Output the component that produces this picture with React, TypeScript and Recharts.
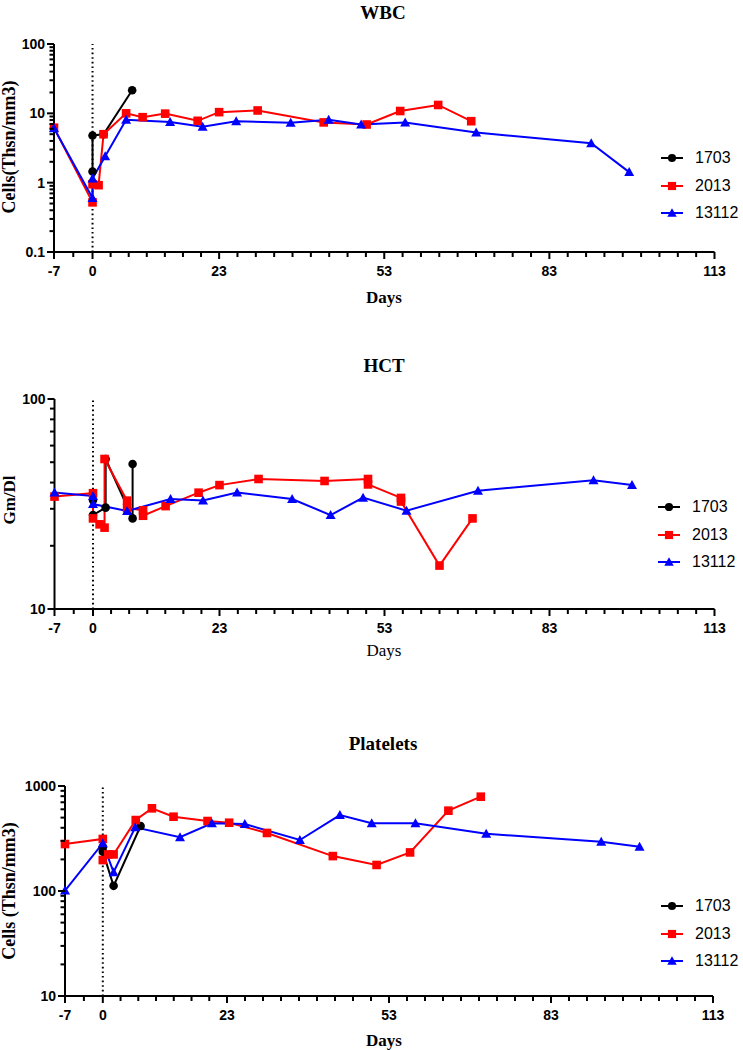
import React from 'react';
import { LineChart, Line, XAxis, YAxis, ReferenceLine } from 'recharts';

type Pt = { d: number; v: number };

const seriesNames = ['1703', '2013', '13112'];
const seriesColors = ['#000000', '#ff0000', '#0000ff'];
const seriesShapes = ['circle', 'square', 'triangle'];

const xMajorTicks = [-7, 0, 23, 53, 83, 113];
const xMinorDivisions = [2, 7, 9, 9, 9];

const wbcTicks = [0.1, 1, 10, 100];
const hctTicks = [10, 100];
const pltTicks = [10, 100, 1000];

const wbc1703: Pt[] = [
  { d: 0, v: 1.45 }, { d: 0, v: 4.8 }, { d: 2, v: 5.0 }, { d: 7.2, v: 21.5 },
];
const wbc2013: Pt[] = [
  { d: -7, v: 6.2 }, { d: 0, v: 0.52 }, { d: 0, v: 0.95 }, { d: 1.1, v: 0.92 }, { d: 2, v: 5.0 },
  { d: 6.1, v: 10.0 }, { d: 9.1, v: 8.8 }, { d: 13.2, v: 9.9 }, { d: 19.1, v: 7.8 }, { d: 23, v: 10.4 },
  { d: 30, v: 11.0 }, { d: 42, v: 7.4 }, { d: 49.8, v: 6.9 }, { d: 55.9, v: 10.8 }, { d: 62.8, v: 13.2 },
  { d: 68.8, v: 7.7 },
];
const wbc13112: Pt[] = [
  { d: -7, v: 6.1 }, { d: 0, v: 0.6 }, { d: 0, v: 1.15 }, { d: 2.3, v: 2.4 }, { d: 6.1, v: 8.1 },
  { d: 14.1, v: 7.5 }, { d: 20, v: 6.4 }, { d: 26.1, v: 7.7 }, { d: 36, v: 7.3 }, { d: 42.9, v: 8.1 },
  { d: 48.8, v: 6.9 }, { d: 56.8, v: 7.4 }, { d: 69.7, v: 5.3 }, { d: 90.6, v: 3.7 }, { d: 97.5, v: 1.42 },
];

const hct1703: Pt[] = [
  { d: 0, v: 33 }, { d: 0, v: 28 }, { d: 2.3, v: 30.4 }, { d: 2.3, v: 51.8 }, { d: 7.2, v: 27 }, { d: 7.2, v: 49 },
];
const hct2013: Pt[] = [
  { d: -7, v: 34.3 }, { d: 0, v: 35.6 }, { d: 0, v: 27 }, { d: 1.2, v: 25.3 }, { d: 2.1, v: 24.4 },
  { d: 2.1, v: 51.8 }, { d: 6.2, v: 32.8 }, { d: 6.2, v: 30.2 }, { d: 9.1, v: 29.5 }, { d: 9.1, v: 27.8 },
  { d: 13.2, v: 30.9 }, { d: 19.2, v: 35.8 }, { d: 23, v: 38.9 }, { d: 30.1, v: 41.6 }, { d: 42.1, v: 40.7 },
  { d: 50, v: 41.6 }, { d: 50, v: 39.2 }, { d: 56, v: 33.8 }, { d: 56, v: 32.5 }, { d: 63, v: 16.1 },
  { d: 69, v: 27 },
];
const hct13112: Pt[] = [
  { d: -7, v: 35.9 }, { d: 0, v: 34.5 }, { d: 0, v: 31.6 }, { d: 6.2, v: 29.3 }, { d: 14.1, v: 33.4 },
  { d: 20, v: 32.9 }, { d: 26.2, v: 35.9 }, { d: 36.2, v: 33.4 }, { d: 43.2, v: 28.0 }, { d: 49.1, v: 33.9 },
  { d: 57, v: 29.4 }, { d: 70, v: 36.6 }, { d: 91, v: 41.0 }, { d: 98, v: 38.9 },
];

const plt1703: Pt[] = [
  { d: 0, v: 261 }, { d: 0, v: 237 }, { d: 2, v: 112 }, { d: 7, v: 416 },
];
const plt2013: Pt[] = [
  { d: -7, v: 280 }, { d: 0, v: 313 }, { d: 0, v: 197 }, { d: 1, v: 223 }, { d: 2, v: 223 },
  { d: 6.1, v: 474 }, { d: 9.1, v: 613 }, { d: 13.1, v: 510 }, { d: 19.4, v: 464 }, { d: 23.4, v: 447 },
  { d: 30.4, v: 357 }, { d: 42.6, v: 215 }, { d: 50.7, v: 177 }, { d: 56.9, v: 233 }, { d: 64, v: 582 },
  { d: 70, v: 791 },
];
const plt13112: Pt[] = [
  { d: -7, v: 101 }, { d: 0, v: 285 }, { d: 2, v: 151 }, { d: 6, v: 404 }, { d: 14.3, v: 325 },
  { d: 20.2, v: 441 }, { d: 26.3, v: 434 }, { d: 36.5, v: 306 }, { d: 43.9, v: 529 }, { d: 49.8, v: 441 },
  { d: 57.9, v: 441 }, { d: 71, v: 351 }, { d: 92.3, v: 295 }, { d: 99.4, v: 264 },
];

function buildXTicks(): number[] {
  const out: number[] = [];
  for (let i = 0; i < xMajorTicks.length - 1; i++) {
    const a = xMajorTicks[i];
    const b = xMajorTicks[i + 1];
    const n = xMinorDivisions[i];
    for (let k = 0; k < n; k++) out.push(a + ((b - a) * k) / n);
  }
  out.push(xMajorTicks[xMajorTicks.length - 1]);
  return out;
}
const xTicks = buildXTicks();

function buildLogTicks(majors: number[]): number[] {
  const out: number[] = [];
  for (let i = 0; i < majors.length - 1; i++) {
    for (let m = 1; m < 10; m++) out.push(majors[i] * m);
  }
  out.push(majors[majors.length - 1]);
  return out;
}

const isMajorX = (v: number) => xMajorTicks.some((m) => Math.abs(m - v) < 1e-6);

function Marker({ cx, cy, shape, color, size = 1 }: any) {
  if (cx == null || cy == null) return null;
  if (shape === 'circle') return <circle cx={cx} cy={cy} r={4.3 * size} fill={color} />;
  if (shape === 'square') {
    const s = 8.6 * size;
    return <rect x={cx - s / 2} y={cy - s / 2} width={s} height={s} fill={color} />;
  }
  const h = 5 * size;
  return (
    <polygon
      points={`${cx},${cy - h} ${cx + h * 1.0},${cy + h * 0.8} ${cx - h * 1.0},${cy + h * 0.8}`}
      fill={color}
    />
  );
}

const tickFont = "'Liberation Sans', Arial, sans-serif";
const serif = "'Liberation Serif', 'Times New Roman', serif";

function XTick(props: any) {
  const { x, y, payload } = props;
  const major = isMajorX(payload.value);
  const len = major ? 7 : 5;
  return (
    <g>
      <rect x={x - 1} y={y} width={2} height={len} fill="#000" stroke="none" />
      {major && (
        <text x={x} y={y + 24} textAnchor="middle" fontFamily={tickFont} fontWeight="bold" fontSize={14} fill="#000" stroke="none">
          {payload.value}
        </text>
      )}
    </g>
  );
}

function makeYTick(majors: number[]) {
  return (props: any) => {
    const { x, y, payload } = props;
    const major = majors.some((m) => Math.abs(m - payload.value) / m < 1e-6);
    const len = major ? 7 : 4.5;
    return (
      <g>
        <rect x={x - len} y={y - 1} width={len} height={2} fill="#000" stroke="none" />
        {major && (
          <text x={x - 9} y={y + 5} textAnchor="end" fontFamily={tickFont} fontWeight="bold" fontSize={14} fill="#000" stroke="none">
            {payload.value}
          </text>
        )}
      </g>
    );
  };
}

type PanelCfg = {
  top: number;
  height: number;
  plotTop: number;
  plotBottom: number;
  plotLeft: number;
  plotRight: number;
  yMajors: number[];
  data: Pt[][];
};

function Panel({ cfg }: { cfg: PanelCfg }) {
  const { top, height, plotTop, plotBottom, plotLeft, plotRight, yMajors, data } = cfg;
  const yTicks = buildLogTicks(yMajors);
  return (
    <div style={{ position: 'absolute', left: 0, top, width: 743, height }}>
      <LineChart
        width={743}
        height={height}
        margin={{ top: plotTop - top, right: 743 - plotRight, bottom: top + height - plotBottom - 30, left: 0 }}
      >
        <XAxis
          dataKey="d"
          type="number"
          domain={[-7, 113]}
          ticks={xTicks}
          interval={0}
          height={30}
          tickSize={0}
          tickMargin={0}
          tickLine={false}
          axisLine={{ stroke: '#000', strokeWidth: 2 }}
          tick={(p: any) => <XTick {...p} />}
          allowDuplicatedCategory={false}
        />
        <YAxis
          type="number"
          scale="log"
          domain={[yMajors[0], yMajors[yMajors.length - 1]]}
          ticks={yTicks}
          interval={0}
          width={plotLeft}
          tickSize={0}
          tickMargin={0}
          tickLine={false}
          axisLine={{ stroke: '#000', strokeWidth: 2 }}
          tick={makeYTick(yMajors)}
        />
        <ReferenceLine x={0} stroke="#000" strokeWidth={2} strokeDasharray="1.6 3" />
        {data.map((series, i) => (
          <Line
            key={seriesNames[i]}
            data={series}
            dataKey="v"
            name={seriesNames[i]}
            stroke={seriesColors[i]}
            strokeWidth={2}
            isAnimationActive={false}
            activeDot={false}
            dot={(p: any) => (
              <Marker key={`${seriesNames[i]}-${p.index}`} cx={p.cx} cy={p.cy} shape={seriesShapes[i]} color={seriesColors[i]} />
            )}
          />
        ))}
      </LineChart>
    </div>
  );
}

function LegendBox({ left, top }: { left: number; top: number }) {
  return (
    <div style={{ position: 'absolute', left, top }}>
      {seriesNames.map((n, i) => (
        <div key={n} style={{ position: 'absolute', left: 0, top: i * 27.5 - 10, height: 20, width: 90 }}>
          <svg width={24} height={20} style={{ position: 'absolute', left: 0, top: 0 }}>
            <line x1={1} y1={10} x2={23} y2={10} stroke={seriesColors[i]} strokeWidth={2} />
            <Marker cx={12} cy={10} shape={seriesShapes[i]} color={seriesColors[i]} size={0.95} />
          </svg>
          <span
            style={{
              position: 'absolute',
              left: 35,
              top: 0,
              lineHeight: '20px',
              fontFamily: tickFont,
              fontSize: 16,
              color: '#000',
              whiteSpace: 'nowrap',
            }}
          >
            {n}
          </span>
        </div>
      ))}
    </div>
  );
}

function CenterText({ x, y, text, size, bold = true, rotate = false }: any) {
  return (
    <div
      style={{
        position: 'absolute',
        left: x,
        top: y,
        transform: `translate(-50%, -50%)${rotate ? ' rotate(-90deg)' : ''}`,
        fontFamily: serif,
        fontWeight: bold ? 'bold' : 'normal',
        fontSize: size,
        whiteSpace: 'nowrap',
        lineHeight: 1,
        color: '#000',
      }}
    >
      {text}
    </div>
  );
}

const panels: PanelCfg[] = [
  { top: 0, height: 330, plotTop: 44, plotBottom: 252, plotLeft: 54, plotRight: 714.5, yMajors: wbcTicks, data: [wbc1703, wbc2013, wbc13112] },
  { top: 335, height: 330, plotTop: 399, plotBottom: 609, plotLeft: 54.5, plotRight: 714.5, yMajors: hctTicks, data: [hct1703, hct2013, hct13112] },
  { top: 700, height: 350, plotTop: 786, plotBottom: 996, plotLeft: 65, plotRight: 713, yMajors: pltTicks, data: [plt1703, plt2013, plt13112] },
];

export default function App() {
  return (
    <div style={{ position: 'absolute', left: 0, top: 0, width: 743, height: 1050, background: '#fff', overflow: 'hidden' }}>
      {panels.map((p, i) => (
        <Panel key={i} cfg={p} />
      ))}
      <CenterText x={383} y={12} text="WBC" size={19} />
      <CenterText x={384} y={365} text="HCT" size={19} />
      <CenterText x={383} y={743} text="Platelets" size={19} />

      <CenterText x={9} y={147} text="Cells(Thsn/mm3)" size={18} rotate />
      <CenterText x={9} y={500} text="Gm/Dl" size={17} rotate />
      <CenterText x={9} y={891} text="Cells (Thsn/mm3)" size={18} rotate />

      <CenterText x={384} y={297} text="Days" size={17} />
      <CenterText x={384} y={650} text="Days" size={17} bold={false} />
      <CenterText x={384} y={1040} text="Days" size={17} />

      <LegendBox left={660} top={158} />
      <LegendBox left={657} top={507} />
      <LegendBox left={660} top={906} />
    </div>
  );
}
